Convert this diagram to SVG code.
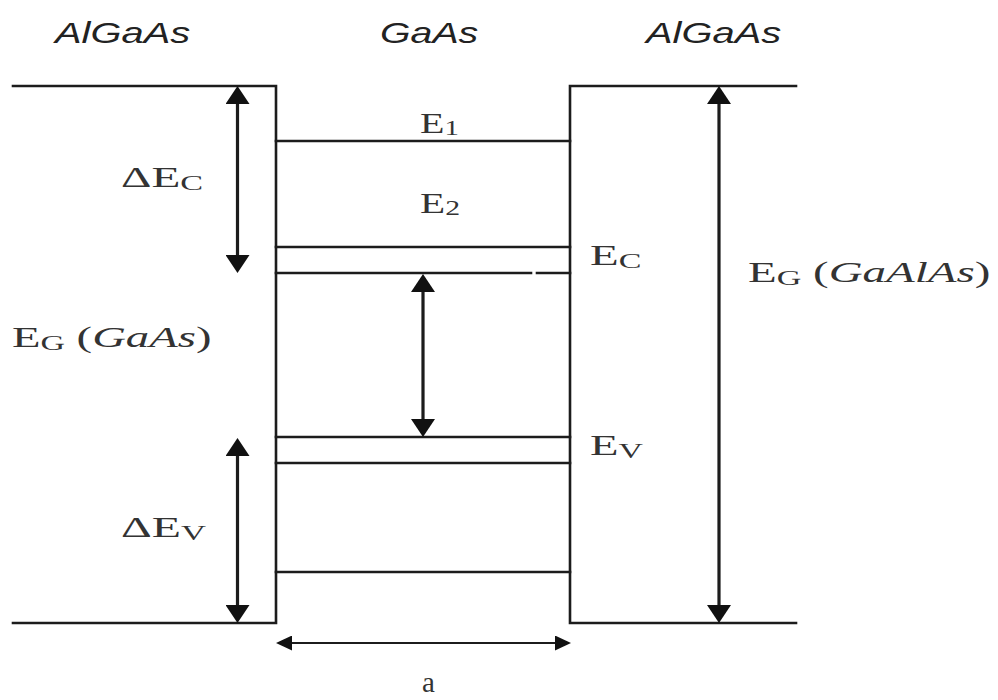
<svg xmlns="http://www.w3.org/2000/svg" width="998" height="700" viewBox="0 0 998 700">
<defs>
<style>
.ln{stroke:#1c1c1c;stroke-width:2.6;fill:none;stroke-linecap:square}
.ar{stroke:#1c1c1c;stroke-width:3.2;fill:none}
.ah{stroke:#1c1c1c;stroke-width:2;fill:none}
.hd{font-family:"Liberation Sans",Arial,sans-serif;font-style:italic;font-size:30px;fill:#222}
.lb{font-family:"Liberation Serif","Times New Roman",serif;font-size:29px;fill:#333}
.sb{font-size:21px}
.it{font-style:italic}
</style>
<marker id="big" viewBox="0 0 18 24" refX="8" refY="12" markerWidth="18" markerHeight="24" markerUnits="userSpaceOnUse" orient="auto-start-reverse">
<path d="M0,0 L18,12 L0,24 Z" fill="#111"/>
</marker>
<marker id="small" viewBox="0 0 16 15" refX="6" refY="7.5" markerWidth="16" markerHeight="15" markerUnits="userSpaceOnUse" orient="auto-start-reverse">
<path d="M0,0 L16,7.5 L0,15 Z" fill="#111"/>
</marker>
</defs>

<g id="headers">
<text class="hd" transform="translate(55,43) scale(1.33,1)">AlGaAs</text>
<text class="hd" transform="translate(380,43) scale(1.31,1)">GaAs</text>
<text class="hd" transform="translate(646,43) scale(1.33,1)">AlGaAs</text>
</g>

<g id="band-profile">
<path class="ln" d="M13,86 H276 V623 H13"/>
<path class="ln" d="M796,86 H570 V623 H796"/>
</g>

<g id="conduction-levels">
<line class="ln" x1="276" y1="141" x2="570" y2="141"/>
<line class="ln" x1="276" y1="247" x2="570" y2="247"/>
<line class="ln" x1="276" y1="273" x2="531" y2="273"/>
<line class="ln" x1="537" y1="273" x2="570" y2="273"/>
</g>

<g id="valence-levels">
<line class="ln" x1="276" y1="437" x2="570" y2="437"/>
<line class="ln" x1="276" y1="463" x2="570" y2="463"/>
<line class="ln" x1="276" y1="572" x2="570" y2="572"/>
</g>

<g id="connectors">
<line class="ar" x1="237.5" y1="96" x2="237.5" y2="263" marker-start="url(#big)" marker-end="url(#big)"/>
<line class="ar" x1="237.5" y1="448" x2="237.5" y2="613" marker-start="url(#big)" marker-end="url(#big)"/>
<line class="ar" x1="423" y1="284" x2="423" y2="427" marker-start="url(#big)" marker-end="url(#big)"/>
<line class="ar" x1="719" y1="96" x2="719" y2="613" marker-start="url(#big)" marker-end="url(#big)"/>
<line class="ah" x1="286" y1="643" x2="561" y2="643" marker-start="url(#small)" marker-end="url(#small)"/>
</g>

<g id="label-dEc">
<text class="lb" transform="translate(121,187) scale(1.63,1)">ΔE<tspan class="sb" dy="3">C</tspan></text>
</g>
<g id="label-E1">
<text class="lb" transform="translate(420,133) scale(1.38,1)">E<tspan class="sb" dy="2">1</tspan></text>
</g>
<g id="label-E2">
<text class="lb" transform="translate(420,213) scale(1.42,1)">E<tspan class="sb" dy="2">2</tspan></text>
</g>
<g id="label-Ec">
<text class="lb" transform="translate(590,265) scale(1.62,1)">E<tspan class="sb" dy="3">C</tspan></text>
</g>
<g id="label-EgGaAs">
<text class="lb" transform="translate(12,347) scale(1.61,1)">E<tspan class="sb" dy="3">G</tspan><tspan dy="-3"> (</tspan><tspan class="it">GaAs</tspan>)</text>
</g>
<g id="label-EgGaAlAs">
<text class="lb" transform="translate(748,282) scale(1.62,1)">E<tspan class="sb" dy="3">G</tspan><tspan dy="-3"> (</tspan><tspan class="it">GaAlAs</tspan>)</text>
</g>
<g id="label-Ev">
<text class="lb" transform="translate(590,455) scale(1.61,1)">E<tspan class="sb" dy="3">V</tspan></text>
</g>
<g id="label-dEv">
<text class="lb" transform="translate(121,537) scale(1.65,1)">ΔE<tspan class="sb" dy="3">V</tspan></text>
</g>
<g id="label-a">
<text class="lb" x="422" y="692">a</text>
</g>
</svg>
